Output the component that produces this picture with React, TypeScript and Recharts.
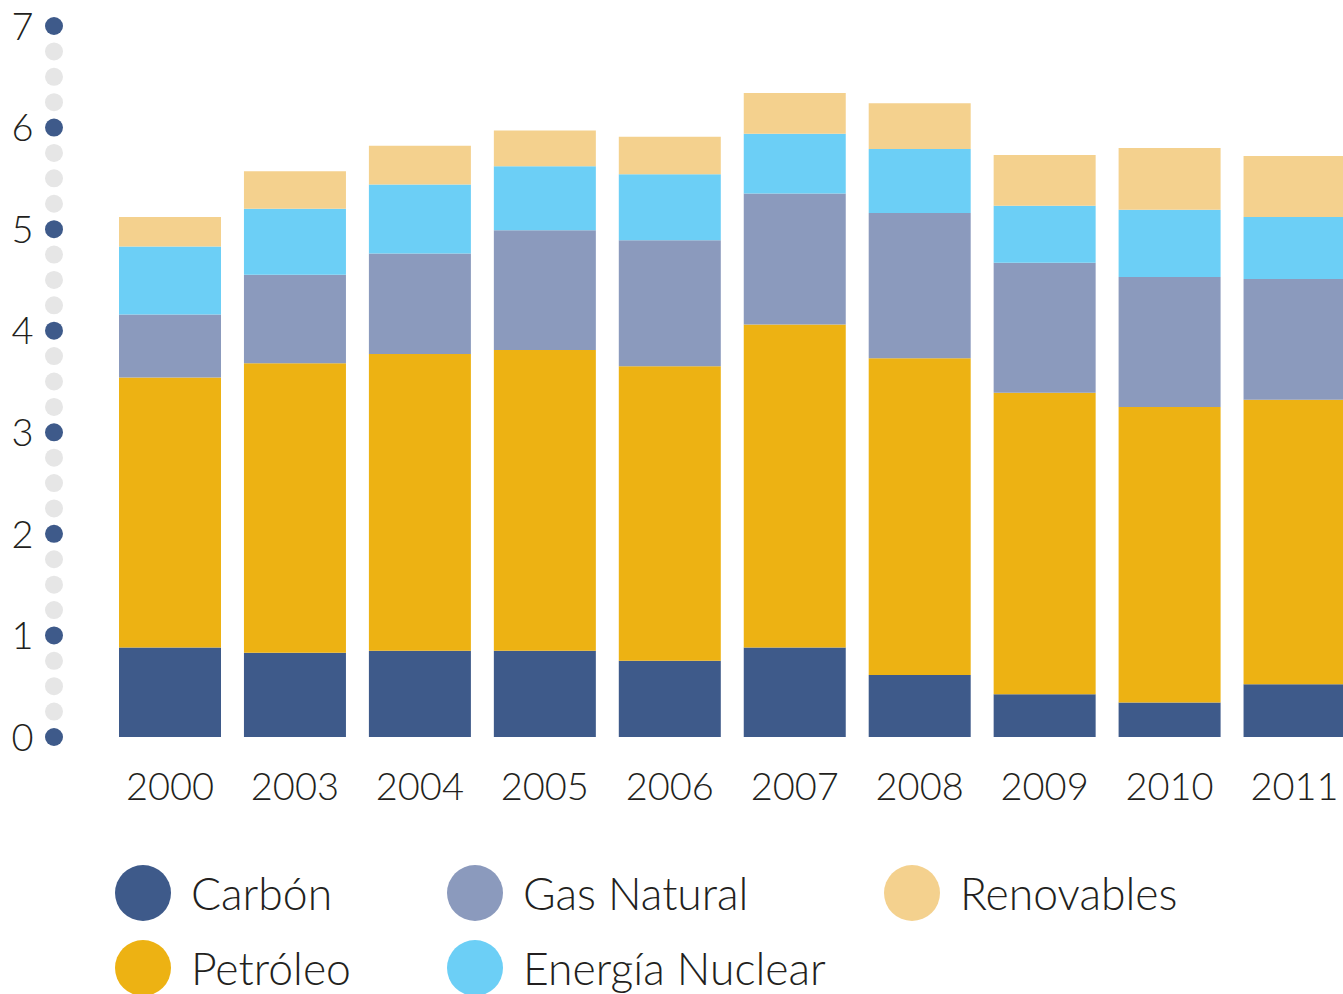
import React from 'react';
import { BarChart, Bar, XAxis, YAxis } from 'recharts';

const years = ['2000', '2003', '2004', '2005', '2006', '2007', '2008', '2009', '2010', '2011'];
const carbon = [0.88, 0.83, 0.85, 0.85, 0.75, 0.88, 0.61, 0.42, 0.34, 0.52];
const petroleo = [2.66, 2.85, 2.92, 2.96, 2.90, 3.18, 3.12, 2.97, 2.91, 2.80];
const gasNatural = [0.62, 0.87, 0.99, 1.18, 1.24, 1.29, 1.43, 1.28, 1.28, 1.19];
const nuclear = [0.67, 0.65, 0.68, 0.63, 0.65, 0.59, 0.63, 0.56, 0.66, 0.61];
const renovables = [0.29, 0.37, 0.38, 0.35, 0.37, 0.40, 0.45, 0.50, 0.61, 0.60];

const yTicks = [0, 0.25, 0.5, 0.75, 1, 1.25, 1.5, 1.75, 2, 2.25, 2.5, 2.75, 3, 3.25, 3.5, 3.75, 4, 4.25, 4.5, 4.75, 5, 5.25, 5.5, 5.75, 6, 6.25, 6.5, 6.75, 7];

const series = [
  { key: 'carbon', name: 'Carbón', color: '#3e5a8a', values: carbon },
  { key: 'petroleo', name: 'Petróleo', color: '#edb213', values: petroleo },
  { key: 'gas', name: 'Gas Natural', color: '#8b9abd', values: gasNatural },
  { key: 'nuclear', name: 'Energía Nuclear', color: '#6ccff6', values: nuclear },
  { key: 'renovables', name: 'Renovables', color: '#f4d18e', values: renovables },
];

const data = years.map((y, i) => {
  const row: any = { year: y };
  series.forEach((s) => {
    row[s.key] = s.values[i];
  });
  return row;
});

const FONT = 'Lato, "Open Sans", sans-serif';
const WEIGHT = 300;
const TEXT = '#231f20';

const YTick = (props: any) => {
  const { x, y, payload } = props;
  const v = payload.value;
  const isInt = Math.abs(v - Math.round(v)) < 1e-6;
  return (
    <g>
      <circle cx={x - 53.5} cy={y} r={9} fill={isInt ? '#3e5a8a' : '#e6e6e6'} />
      {isInt && (
        <text x={x - 74} y={y} dy="0.36em" textAnchor="end" fontSize={38} fontWeight={WEIGHT} fill={TEXT} fontFamily={FONT}>
          {v}
        </text>
      )}
    </g>
  );
};

const XTick = (props: any) => {
  const { x, y, payload } = props;
  return (
    <text x={x} y={y + 63} textAnchor="middle" fontSize={38} fontWeight={WEIGHT} fill={TEXT} fontFamily={FONT}>
      {payload.value}
    </text>
  );
};

const legendRows = [
  [series[0], series[2], series[4]],
  [series[1], series[3]],
];
const legendCols = [143, 475, 912];
const legendRowY = [893, 968];

export default function App() {
  return (
    <div style={{ position: 'absolute', left: 0, top: 0, width: 1343, height: 994, overflow: 'hidden', background: '#fff' }}>
      <BarChart
        width={1357}
        height={830}
        data={data}
        margin={{ top: 26, right: 0, bottom: 33, left: 0 }}
        barCategoryGap={11.5}
      >
        <XAxis dataKey="year" height={60} axisLine={false} tickLine={false} tickSize={0} tickMargin={0} tick={<XTick />} interval={0} />
        <YAxis
          width={107.5}
          domain={[0, 7]}
          ticks={yTicks}
          interval={0}
          axisLine={false}
          tickLine={false}
          tickSize={0}
          tickMargin={0}
          tick={<YTick />}
        />
        {series.map((s) => (
          <Bar key={s.key} dataKey={s.key} name={s.name} stackId="a" fill={s.color} isAnimationActive={false} />
        ))}
      </BarChart>
      {legendRows.map((row, ri) =>
        row.map((s, ci) => (
          <div
            key={s.key}
            style={{
              position: 'absolute',
              left: legendCols[ci] - 28,
              top: legendRowY[ri] - 28,
              height: 56,
              display: 'flex',
              alignItems: 'center',
              whiteSpace: 'nowrap',
            }}
          >
            <div style={{ width: 56, height: 56, borderRadius: '50%', background: s.color }} />
            <span style={{ marginLeft: 20, fontSize: 44.5, fontWeight: WEIGHT, fontFamily: FONT, color: TEXT, lineHeight: '56px' }}>{s.name}</span>
          </div>
        ))
      )}
    </div>
  );
}
